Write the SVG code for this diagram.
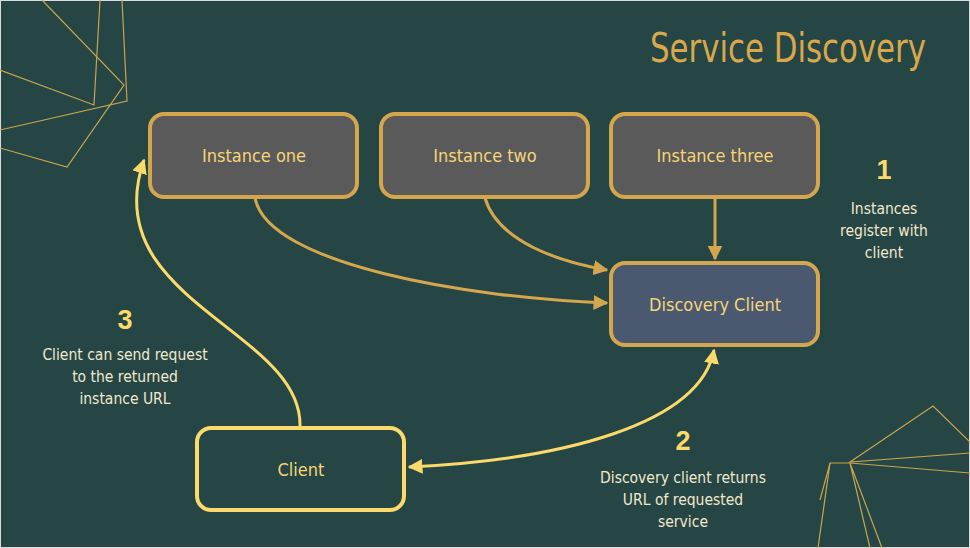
<svg xmlns="http://www.w3.org/2000/svg" width="970" height="548" viewBox="0 0 970 548">
<defs>
<style>
.bg{fill:#264645}
.deco{fill:none;stroke:#c9a54e;stroke-width:1.2}
.inst{fill:#5a5a5a;stroke:#d4a74e;stroke-width:4}
.disc{fill:#4a5870;stroke:#d4a74e;stroke-width:4}
.cli{fill:#264645;stroke:#fbd96a;stroke-width:4}
.lbl{font-family:"Liberation Sans Narrow","DejaVu Sans Condensed","Liberation Sans",sans-serif;font-size:18px;fill:#f5d576;text-anchor:middle}
.num{font-family:"Liberation Sans","DejaVu Sans",sans-serif;font-weight:bold;font-size:27px;fill:#fbd96a;text-anchor:middle}
.desc{font-family:"Liberation Sans Narrow","DejaVu Sans Condensed","Liberation Sans",sans-serif;font-size:15.5px;fill:#f2e8cc;text-anchor:middle}
.title{font-family:"Liberation Sans Narrow","DejaVu Sans Condensed","Liberation Sans",sans-serif;font-size:40px;fill:#d8a84b}
.c1{fill:none;stroke:#d4a74e;stroke-width:3}
.c2{fill:none;stroke:#fbd96a;stroke-width:3}
</style>
<marker id="ag" viewBox="0 0 10 10" refX="9" refY="5" markerWidth="5" markerHeight="5" orient="auto-start-reverse" markerUnits="strokeWidth"><path d="M0,0 L10,5 L0,10 z" fill="#d4a74e"/></marker>
<marker id="ay" viewBox="0 0 10 10" refX="9" refY="5" markerWidth="5" markerHeight="5" orient="auto-start-reverse" markerUnits="strokeWidth"><path d="M0,0 L10,5 L0,10 z" fill="#fbd96a"/></marker>
</defs>
<rect class="bg" x="0" y="0" width="970" height="548"/>
<rect x="0" y="0" width="970" height="548" fill="none" stroke="#dcdcdc" stroke-width="2"/>
<g id="decoration">
<polyline class="deco" points="42,0 124,85 67,167 0,148"/>
<polyline class="deco" points="100,0 94,105 0,70"/>
<polyline class="deco" points="122,0 127,101 0,130"/>
<polyline class="deco" points="970,442 933,406 850,462 970,453"/>
<polyline class="deco" points="970,473 850,463 830,463 820,500"/>
<polyline class="deco" points="870,548 850,463 882,548"/>
<line class="deco" x1="830" y1="463" x2="818" y2="548"/>
</g>
<text class="title" x="650" y="62" textLength="276" lengthAdjust="spacingAndGlyphs">Service Discovery</text>
<g id="connectors">
<path class="c1" d="M255,198 C268,265 470,298 607,303" marker-end="url(#ag)"/>
<path class="c1" d="M485,198 C498,242 560,262 607,270" marker-end="url(#ag)"/>
<path class="c1" d="M715,198 L715,259" marker-end="url(#ag)"/>
<path class="c2" d="M300,426 C302,330 95,300 144,160" marker-end="url(#ay)"/>
<path class="c2" d="M409,467 C560,460 700,425 714,350" marker-start="url(#ay)" marker-end="url(#ay)"/>
</g>
<g id="instance-one"><rect class="inst" x="150" y="114" width="207" height="83" rx="14"/><text class="lbl" x="254" y="162">Instance one</text></g>
<g id="instance-two"><rect class="inst" x="381" y="114" width="207" height="83" rx="14"/><text class="lbl" x="485" y="162">Instance two</text></g>
<g id="instance-three"><rect class="inst" x="611" y="114" width="207" height="83" rx="14"/><text class="lbl" x="715" y="162">Instance three</text></g>
<g id="discovery-client"><rect class="disc" x="611" y="263" width="207" height="82" rx="14"/><text class="lbl" x="715" y="311">Discovery Client</text></g>
<g id="client"><rect class="cli" x="197" y="428" width="207" height="82" rx="14"/><text class="lbl" x="301" y="476">Client</text></g>
<g id="note-1"><text class="num" x="884" y="179">1</text><text class="desc" x="884" y="214">Instances</text><text class="desc" x="884" y="236">register with</text><text class="desc" x="884" y="258">client</text></g>
<g id="note-2"><text class="num" x="683" y="450">2</text><text class="desc" x="683" y="483">Discovery client returns</text><text class="desc" x="683" y="505">URL of requested</text><text class="desc" x="683" y="527">service</text></g>
<g id="note-3"><text class="num" x="125" y="329">3</text><text class="desc" x="125" y="360">Client can send request</text><text class="desc" x="125" y="382">to the returned</text><text class="desc" x="125" y="404">instance URL</text></g>
</svg>
